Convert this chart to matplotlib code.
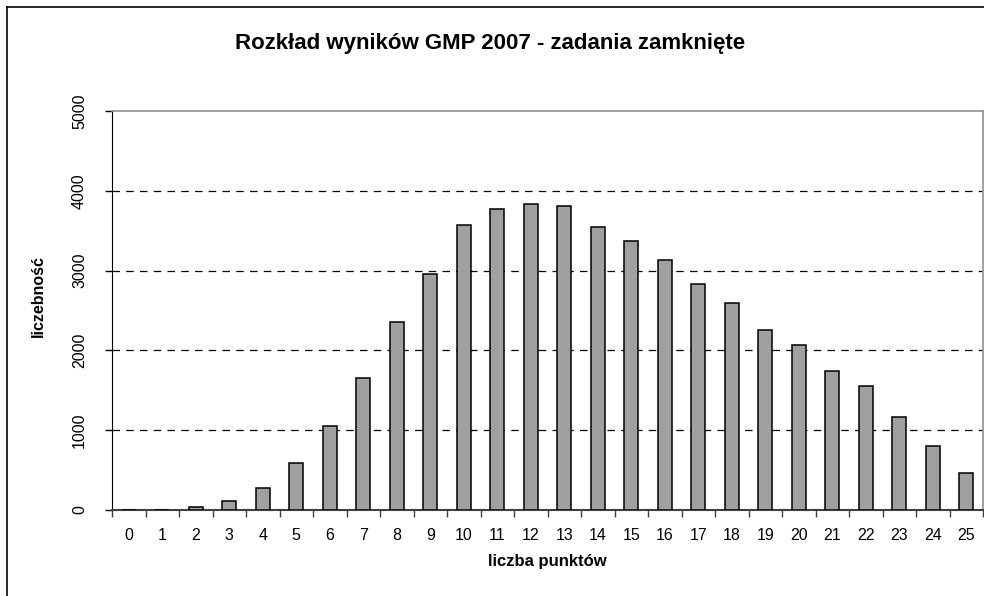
import matplotlib
matplotlib.use("Agg")
import matplotlib.pyplot as plt
from matplotlib.lines import Line2D

# values
scores = list(range(26))
counts = [0, 3, 40, 115, 280, 593, 1057, 1650, 2356, 2961, 3571, 3776, 3835,
          3813, 3550, 3371, 3129, 2832, 2594, 2260, 2071, 1742, 1554, 1170,
          798, 468]
y_ticks = [0, 1000, 2000, 3000, 4000, 5000]

plt.rcParams["font.family"] = ["Liberation Sans", "DejaVu Sans"]

fig = plt.figure(figsize=(9.84, 5.96), dpi=100)
ax = fig.add_axes([112 / 984, 1 - 510 / 596, (983 - 112) / 984, (510 - 111) / 596])

ax.bar(scores, counts, width=0.42, color="#a0a0a0", edgecolor="black",
       linewidth=1.1, zorder=3)

ax.set_xlim(-0.5, 25.5)
ax.set_ylim(0, 5000)
ax.set_yticks(y_ticks)
ax.set_yticklabels([str(v) for v in y_ticks], rotation=90, va="center")
ax.set_xticks(scores)
ax.set_xticklabels([str(s) for s in scores])
ax.set_xticks([s + 0.5 for s in scores[:-1]] + [-0.5, 25.5], minor=True)

ax.tick_params(axis="x", which="major", length=0, pad=13, labelsize=11.5)
ax.tick_params(axis="x", which="minor", length=5, width=1, color="#404040")
ax.tick_params(axis="y", length=5, width=1, pad=13, labelsize=11.5)

for y in y_ticks[1:-1]:
    ax.axhline(y, color="black", linewidth=0.9, dashes=(6, 5), zorder=1)

ax.spines["left"].set_color("black")
ax.spines["bottom"].set_color("#404040")
ax.spines["bottom"].set_linewidth(1.5)
ax.spines["top"].set_color("#909090")
ax.spines["right"].set_color("#909090")
ax.spines["top"].set_linewidth(1.2)
ax.spines["right"].set_linewidth(1.2)

ax.set_xlabel("liczba punktów", fontsize=12, fontweight="bold", labelpad=8)
ax.set_ylabel("liczebność", fontsize=11.5, fontweight="bold", va="center")
ax.yaxis.set_label_coords(-0.084, 0.535)

fig.text(0.498, 1 - 43 / 596, "Rozkład wyników GMP 2007 - zadania zamknięte",
         ha="center", va="center", fontsize=16, fontweight="bold")

# outer chart border (cropped at right and bottom)
fig.add_artist(Line2D([7 / 984, 7 / 984], [0, 1 - 7 / 596], color="black",
                      linewidth=1.2, transform=fig.transFigure))
fig.add_artist(Line2D([7 / 984, 1], [1 - 7 / 596, 1 - 7 / 596], color="black",
                      linewidth=1.2, transform=fig.transFigure))

fig.savefig("out.png", dpi=100)
